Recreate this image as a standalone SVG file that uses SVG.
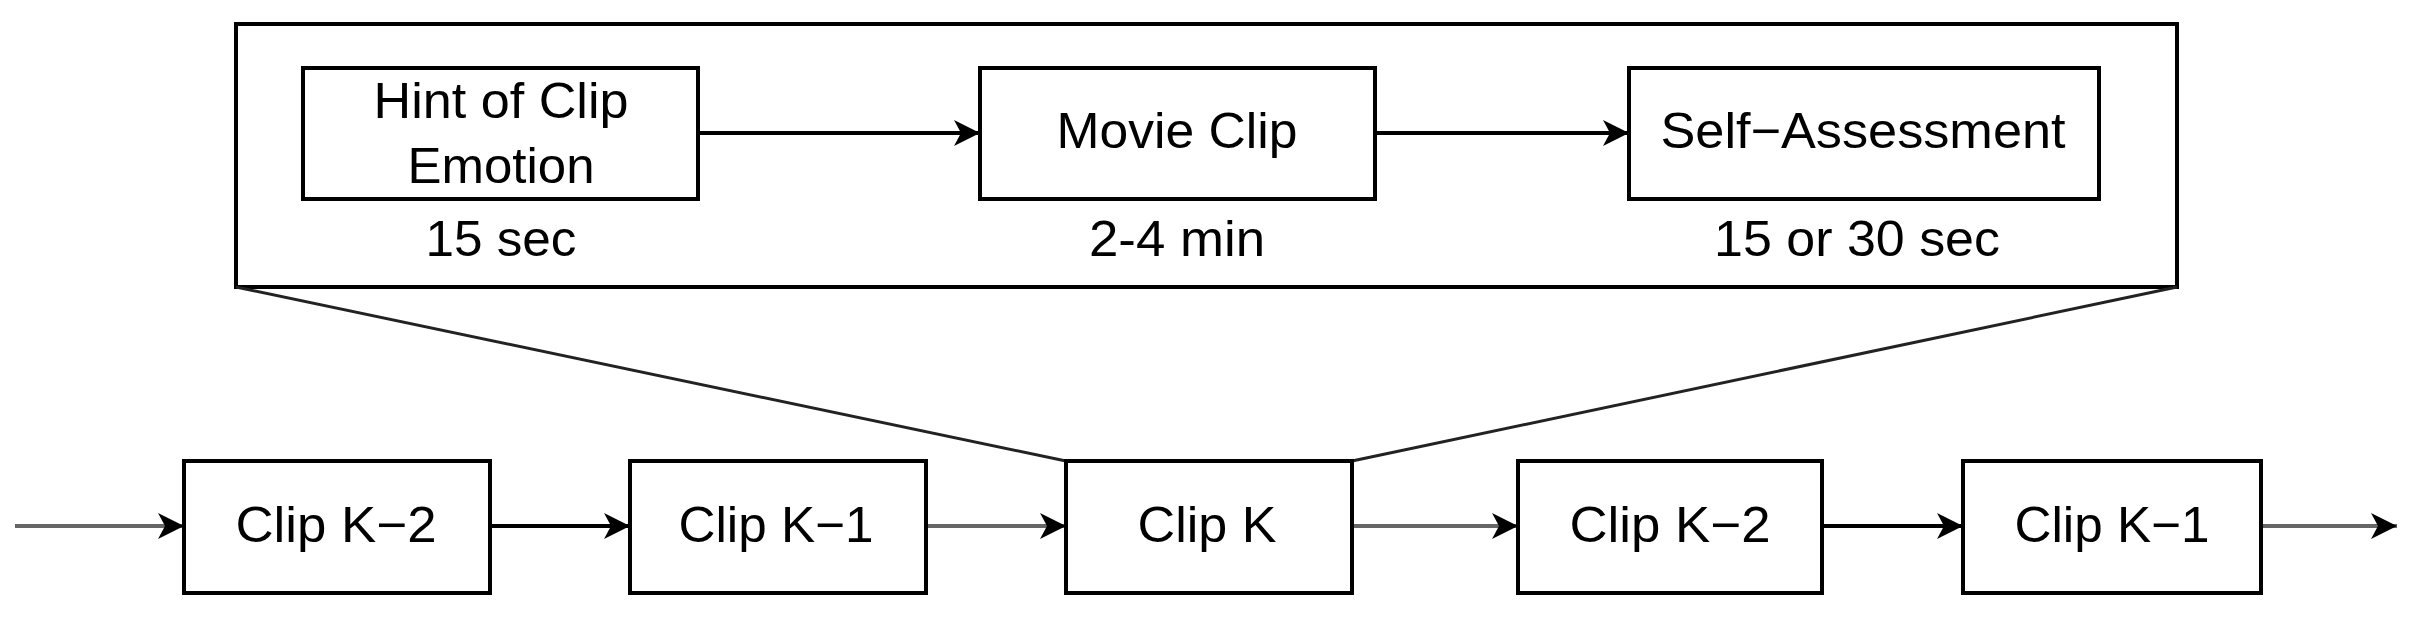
<svg xmlns="http://www.w3.org/2000/svg" width="2418" height="628" viewBox="0 0 2418 628">
<style>
.b{fill:#fff;stroke:#000;stroke-width:4}
.t{font-family:"Liberation Sans",Arial,sans-serif;font-size:50px;fill:#000;text-anchor:middle}
.c{fill:none;stroke:#000;stroke-width:4}
.g{stroke:#666}
.l{fill:none;stroke:#222;stroke-width:3}
</style>
<defs>
<marker id="a" markerUnits="userSpaceOnUse" markerWidth="30" markerHeight="30" refX="26" refY="15" orient="auto">
<path d="M0,2 L26,15 L0,28 L7,15 Z" fill="#000"/>
</marker>
</defs>
<g id="outer"><rect class="b" x="236" y="24" width="1941" height="263"/></g>
<g id="connectors">
<line class="l" x1="236" y1="287" x2="1066" y2="461"/>
<line class="l" x1="2177" y1="287" x2="1352" y2="461"/>
<line class="c" x1="698" y1="133" x2="980" y2="133" marker-end="url(#a)"/>
<line class="c" x1="1375" y1="133" x2="1629" y2="133" marker-end="url(#a)"/>
<line class="c g" x1="15" y1="526" x2="184" y2="526" marker-end="url(#a)"/>
<line class="c" x1="490" y1="526" x2="630" y2="526" marker-end="url(#a)"/>
<line class="c g" x1="926" y1="526" x2="1066" y2="526" marker-end="url(#a)"/>
<line class="c g" x1="1352" y1="526" x2="1518" y2="526" marker-end="url(#a)"/>
<line class="c" x1="1822" y1="526" x2="1963" y2="526" marker-end="url(#a)"/>
<line class="c g" x1="2261" y1="526" x2="2397" y2="526" marker-end="url(#a)"/>
</g>
<g id="hint"><rect class="b" x="303" y="68" width="395" height="131"/>
<text class="t" x="501" y="118" textLength="255" lengthAdjust="spacingAndGlyphs">Hint of Clip</text>
<text class="t" x="501" y="183" textLength="187" lengthAdjust="spacingAndGlyphs">Emotion</text>
<text class="t" x="501" y="256" textLength="151" lengthAdjust="spacingAndGlyphs">15 sec</text></g>
<g id="movie"><rect class="b" x="980" y="68" width="395" height="131"/>
<text class="t" x="1177" y="148" textLength="241" lengthAdjust="spacingAndGlyphs">Movie Clip</text>
<text class="t" x="1177" y="256" textLength="176" lengthAdjust="spacingAndGlyphs">2-4 min</text></g>
<g id="self"><rect class="b" x="1629" y="68" width="470" height="131"/>
<text class="t" x="1863" y="148" textLength="405" lengthAdjust="spacingAndGlyphs">Self−Assessment</text>
<text class="t" x="1857" y="256" textLength="286" lengthAdjust="spacingAndGlyphs">15 or 30 sec</text></g>
<g id="c1"><rect class="b" x="184" y="461" width="306" height="132"/>
<text class="t" x="336" y="542" textLength="201" lengthAdjust="spacingAndGlyphs">Clip K−2</text></g>
<g id="c2"><rect class="b" x="630" y="461" width="296" height="132"/>
<text class="t" x="776" y="542" textLength="195" lengthAdjust="spacingAndGlyphs">Clip K−1</text></g>
<g id="c3"><rect class="b" x="1066" y="461" width="286" height="132"/>
<text class="t" x="1207" y="542" textLength="139" lengthAdjust="spacingAndGlyphs">Clip K</text></g>
<g id="c4"><rect class="b" x="1518" y="461" width="304" height="132"/>
<text class="t" x="1670" y="542" textLength="201" lengthAdjust="spacingAndGlyphs">Clip K−2</text></g>
<g id="c5"><rect class="b" x="1963" y="461" width="298" height="132"/>
<text class="t" x="2112" y="542" textLength="195" lengthAdjust="spacingAndGlyphs">Clip K−1</text></g>
</svg>
